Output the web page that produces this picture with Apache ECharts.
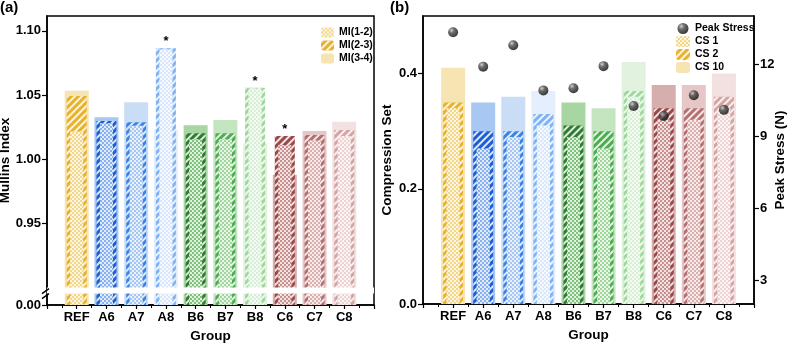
<!DOCTYPE html>
<html><head><meta charset="utf-8">
<script src="https://cdn.jsdelivr.net/npm/echarts@6/dist/echarts.min.js"></script>
<style>html,body{margin:0;padding:0;background:#fff}#c{width:787px;height:343px}</style>
</head><body><div id="c"></div>
<script>
// ---- data ----
const categories = ['REF','A6','A7','A8','B6','B7','B8','C6','C7','C8'];
const mi12 = [1.0215,1.028,1.026,1.0855,1.0155,1.0155,1.055,1.011,1.0145,1.018];
const mi23 = [1.0492,1.0298,1.0288,1.0863,1.0202,1.0202,1.0557,1.0181,1.0189,1.0228];
const mi34 = [1.0533,1.0327,1.0443,1.023,1.0265,1.0306,1.0124,0.988,1.022,1.0292];
const miStar = [false,false,false,true,false,false,true,true,false,false];
const cs1 = [0.34,0.27,0.29,0.31,0.29,0.27,0.36,0.32,0.32,0.34];
const cs2 = [0.35,0.30,0.30,0.33,0.31,0.30,0.37,0.34,0.34,0.36];
const cs10 = [0.41,0.35,0.36,0.37,0.35,0.34,0.42,0.38,0.38,0.40];
const peakStress = [13.32,11.89,12.78,10.90,10.99,11.91,10.25,9.83,10.70,10.09];
const miTicks = [0, 0.95, 1.00, 1.05, 1.10];
const csTicks = [0, 0.2, 0.4];
const psTicks = [3, 6, 9, 12];

// ---- styles ----
const F = 'Arial, "Liberation Sans", sans-serif';
const dark  = ['#E8B22C','#1C5FD4','#3B84E6','#80B2F4','#2E7B31','#4DAE50','#9FD89B','#9C4848','#B66E6E','#D6A3A3'];
const light = ['#F2D88C','#86B0EE','#A6C7F4','#D9E7FB','#7FC27B','#A2D69F','#D7EFD4','#C99090','#D9AFAF','#EED3D3'];
const pale  = ['#F6E4B2','#A8C7F2','#CADDF7','#E4EEFC','#A7D6A3','#C3E5C0','#E1F3DE','#D6AEAE','#E5C7C7','#F3E1E1'];

const hatchDecal = {symbol:'rect', symbolSize:1, color:'rgba(255,255,255,0.85)', dashArrayX:[1,0], dashArrayY:[1.5,3], rotation:-Math.PI/4};
const checkDecal = {symbol:'rect', symbolSize:1, color:'rgba(255,255,255,0.75)', dashArrayX:[[2,2],[0,2,2,0]], dashArrayY:[2,0], rotation:0};

const chart = echarts.init(document.getElementById('c'), null, {renderer:'canvas'});

function xAx(grid, show) {
  return {
    type:'value', gridIndex:grid, min:-1, max:10, interval:1, show:show,
    axisLine:{show:true, onZero:false, lineStyle:{color:'#000', width:1.5}},
    axisTick:{show:true, inside:false, length:4, lineStyle:{width:1.2, color:'#000'}},
    minorTick:{show:true, splitNumber:2, length:3, lineStyle:{color:'#000', width:1}},
    axisLabel:{formatter: v => (categories[v] !== undefined ? categories[v] : ''), color:'#000', fontWeight:'bold', fontSize:13, fontFamily:F, margin:6},
    splitLine:{show:false},
    name: show ? 'Group' : '', nameLocation:'middle', nameGap:24, nameMoveOverlap:false,
    nameTextStyle:{color:'#000', fontWeight:'bold', fontSize:13.5, fontFamily:F}
  };
}
const axLabel = {color:'#000', fontWeight:'bold', fontSize:13, fontFamily:F};
const axName = {color:'#000', fontWeight:'bold', fontSize:13.5, fontFamily:F};

function bars(name, vals, colors, xi, yi, width, decal, extra) {
  const st = c => (decal ? {color:c, decal:decal} : {color:c});
  return Object.assign({
    name:name, type:'bar', xAxisIndex:xi, yAxisIndex:yi, barWidth:width,
    itemStyle:st(colors[0]),
    data: vals.map((v,i) => ({value:[i, v], itemStyle:st(colors[i])})),
    animation:false
  }, extra || {});
}

const sphere = {type:'radial', x:0.35, y:0.3, r:0.75, colorStops:[
  {offset:0, color:'#c8c8c8'}, {offset:0.35, color:'#4a4a4a'}, {offset:1, color:'#050505'}]};

const option = {
  animation:false,
  backgroundColor:'#fff',
  title:[
    {text:'(a)', left:0, top:0, padding:0, textStyle:{fontFamily:F, fontWeight:'bold', fontSize:15, color:'#000'}},
    {text:'(b)', left:390, top:0, padding:0, textStyle:{fontFamily:F, fontWeight:'bold', fontSize:15, color:'#000'}}
  ],
  grid:[
    {left:47, right:413, top:16, bottom:38, outerBoundsMode:'none', containLabel:false, show:true, borderColor:'#000', borderWidth:1.5, backgroundColor:'transparent'},
    {left:423, right:33, top:16, bottom:39, outerBoundsMode:'none', containLabel:false, show:true, borderColor:'#000', borderWidth:1.5, backgroundColor:'transparent'}
  ],
  legend:[
    {data:['MI(1-2)','MI(2-3)','MI(3-4)'], orient:'vertical', left:316, top:22, itemWidth:13, itemHeight:10, itemGap:2,
     textStyle:{fontFamily:F, fontWeight:'bold', fontSize:10.5, color:'#000'}, selectedMode:false},
    {data:['Peak Stress','CS 1','CS 2','CS 10'], orient:'vertical', left:671, top:18, itemWidth:14, itemHeight:11, itemGap:2,
     textStyle:{fontFamily:F, fontWeight:'bold', fontSize:10.5, color:'#000'}, selectedMode:false}
  ],
  xAxis:[xAx(0,true), xAx(0,false), xAx(0,false), xAx(1,true), xAx(1,false), xAx(1,false)],
  yAxis:[
    {type:'value', gridIndex:0, min:0, max:1.1115,
     breaks:[{start:0.009, end:0.9, gap:'2%'}],
     breakArea:{show:true, itemStyle:{color:'#fff', borderColor:'#fff', borderWidth:0, opacity:1}, zigzagAmplitude:0, expandOnClick:false},
     axisLine:{show:true, onZero:false, lineStyle:{color:'#000', width:1.5}},
     axisTick:{show:true, length:5, customValues:miTicks, lineStyle:{color:'#000', width:1.2}},
     axisLabel:Object.assign({customValues:miTicks, formatter:v => v.toFixed(2), margin:6}, axLabel),
     splitLine:{show:false},
     name:'Mullins Index', nameLocation:'middle', nameGap:35, nameMoveOverlap:false, nameTextStyle:axName},
    {type:'value', gridIndex:1, min:0, max:0.5,
     axisLine:{show:true, onZero:false, lineStyle:{color:'#000', width:1.5}},
     axisTick:{show:true, length:5, customValues:csTicks, lineStyle:{color:'#000', width:1.2}},
     axisLabel:Object.assign({customValues:csTicks, formatter:v => v.toFixed(1), margin:6}, axLabel),
     splitLine:{show:false},
     name:'Compression Set', nameLocation:'middle', nameGap:29, nameMoveOverlap:false, nameTextStyle:axName},
    {type:'value', gridIndex:1, position:'right', min:2, max:14,
     axisLine:{show:true, onZero:false, lineStyle:{color:'#000', width:1.5}},
     axisTick:{show:true, length:5, customValues:psTicks, lineStyle:{color:'#000', width:1.2}},
     axisLabel:Object.assign({customValues:psTicks, margin:6}, axLabel),
     splitLine:{show:false},
     name:'Peak Stress (N)', nameLocation:'middle', nameGap:19, nameMoveOverlap:false, nameTextStyle:axName}
  ],
  series:[
    bars('MI(3-4)', mi34, pale, 0, 0, 24, null),
    bars('MI(2-3)', mi23, dark, 1, 0, 20, hatchDecal, {
      label:{show:true, position:'top', distance:0, color:'#000', fontWeight:'bold', fontSize:13, fontFamily:F,
             formatter: p => (miStar[p.dataIndex] ? '*' : '')}}),
    bars('MI(1-2)', mi12, light, 2, 0, 13, checkDecal),
    bars('CS 10', cs10, pale, 3, 1, 24, null),
    bars('CS 2', cs2, dark, 4, 1, 20, hatchDecal),
    bars('CS 1', cs1, light, 5, 1, 13, checkDecal),
    {name:'Peak Stress', type:'scatter', xAxisIndex:3, yAxisIndex:2, symbol:'circle', symbolSize:10, z:10,
     itemStyle:{color:sphere}, data: peakStress.map((v,i) => [i, v])}
  ]
};
chart.setOption(option);

// axis-break marks "//" on the left y axis
const yb = chart.convertToPixel({xAxisIndex:0, yAxisIndex:0}, [-1, 0.9]);
const x0 = yb[0];
const yTop = yb[1];
chart.setOption({graphic:[
  {type:'line', shape:{x1:x0-5, y1:yTop+6, x2:x0+2, y2:yTop+1}, style:{stroke:'#000', lineWidth:1.5}, z:100},
  {type:'line', shape:{x1:x0-5, y1:yTop+11, x2:x0+2, y2:yTop+6}, style:{stroke:'#000', lineWidth:1.5}, z:100}
]});
</script>
</body></html>
